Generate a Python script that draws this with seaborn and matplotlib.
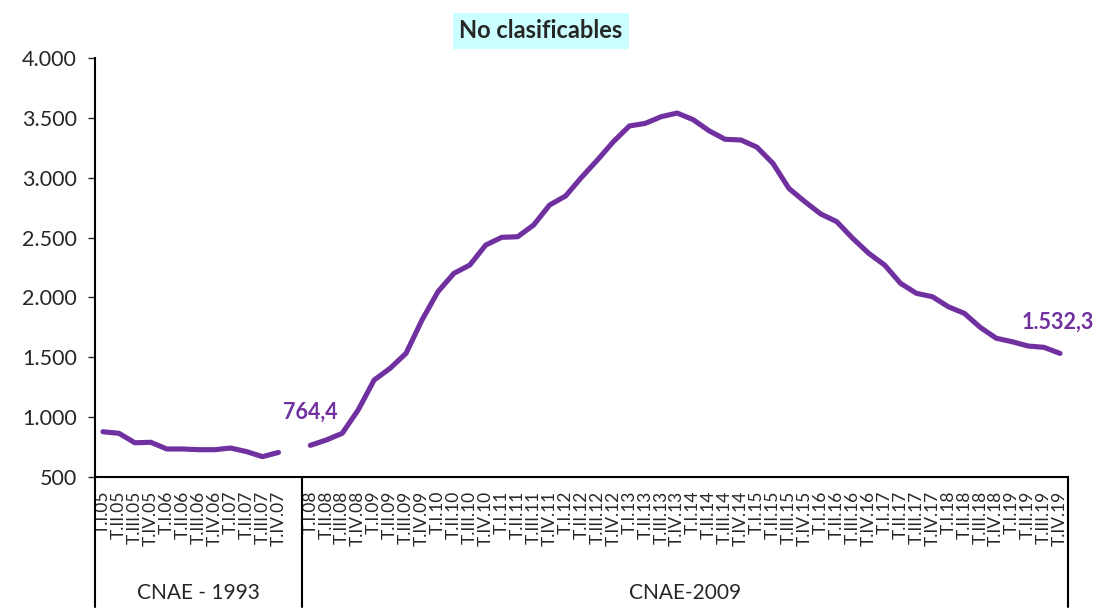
import numpy as np
import pandas as pd
import matplotlib
matplotlib.use("Agg")
import matplotlib.pyplot as plt
import matplotlib.transforms as mtransforms
import seaborn as sns

# ---- data ----
quarters_1993 = ["T.I.05", "T.II.05", "T.III.05", "T.IV.05",
                 "T.I.06", "T.II.06", "T.III.06", "T.IV.06",
                 "T.I.07", "T.II.07", "T.III.07", "T.IV.07"]
values_1993 = [878, 865, 786, 790, 734, 734, 728, 728, 742, 712, 670, 705]

years_2009 = [f"{y:02d}" for y in range(8, 20)]
roman = ["I", "II", "III", "IV"]
quarters_2009 = [f"T.{r}.{y}" for y in years_2009 for r in roman]
values_2009 = [764.4, 809, 865, 1060, 1310, 1408, 1533, 1811, 2048, 2201,
               2271, 2438, 2502, 2507, 2605, 2772, 2847, 3003, 3148, 3301,
               3432, 3454, 3510, 3540, 3485, 3392, 3321, 3315, 3255, 3120,
               2911, 2800, 2697, 2633, 2494, 2369, 2271, 2118, 2034, 2006,
               1922, 1867, 1750, 1659, 1630, 1594, 1583, 1532.3]
group_names = ["CNAE - 1993", "CNAE-2009"]
title = "No clasificables"

# ---- style ----
sns.set_style("white")
plt.rcParams["font.family"] = ["Lato", "DejaVu Sans"]
purple = "#7030A0"

tick_labels = quarters_1993 + [""] + quarters_2009
n1 = len(quarters_1993)
x1 = np.arange(n1)
x2 = np.arange(len(quarters_2009)) + n1 + 1
df1 = pd.DataFrame({"x": x1, "v": values_1993})
df2 = pd.DataFrame({"x": x2, "v": values_2009})

fig = plt.figure(figsize=(10.97, 6.09), dpi=100)
ax = fig.add_axes([95/1097, 1-477/609, (1068-95)/1097, (477-58)/609])

sns.lineplot(data=df1, x="x", y="v", ax=ax, color=purple, lw=3.7)
sns.lineplot(data=df2, x="x", y="v", ax=ax, color=purple, lw=3.7)

ax.set_xlim(-0.5, len(tick_labels) - 0.5)
ax.set_ylim(500, 4000)
ax.set_yticks(np.arange(500, 4001, 500))
ax.set_yticklabels([f"{int(v):,}".replace(",", ".") for v in np.arange(500, 4001, 500)],
                   fontsize=15.5)
ax.set_xticks(np.arange(len(tick_labels)))
ax.set_xticklabels(tick_labels, rotation=90, fontsize=12.5)
ax.tick_params(axis="x", length=0, pad=10)
ax.tick_params(axis="y", length=5, width=1, direction="out", left=True, pad=8)
ax.set_xlabel("")
ax.set_ylabel("")
for s in ["top", "right"]:
    ax.spines[s].set_visible(False)
for s in ["left", "bottom"]:
    ax.spines[s].set_color("black")
    ax.spines[s].set_linewidth(1.5)

# group separators and labels
trans = mtransforms.blended_transform_factory(ax.transData, ax.transAxes)
depth = -(607 - 477) / (477 - 58)
for xb in [-0.5, n1 + 0.5, len(tick_labels) - 0.5]:
    ax.plot([xb, xb], [0, depth], transform=trans, color="black", lw=1.5, clip_on=False)
label_y = -(593 - 477) / (477 - 58)
ax.text((-0.5 + n1 + 0.5) / 2, label_y, group_names[0], transform=trans,
        ha="center", va="center", fontsize=15)
ax.text((n1 + 0.5 + len(tick_labels) - 0.5) / 2, label_y, group_names[1], transform=trans,
        ha="center", va="center", fontsize=15)

# data labels
ax.annotate(f"{values_2009[0]:.1f}".replace(".", ","), (x2[0], values_2009[0]),
            xytext=(0, 33), textcoords="offset pixels", ha="center", va="center",
            color=purple, fontsize=15.5, fontweight="bold")
last = f"{values_2009[-1]:,.1f}".replace(",", "X").replace(".", ",").replace("X", ".")
ax.annotate(last, (x2[-1], values_2009[-1]),
            xytext=(-2, 31), textcoords="offset pixels", ha="center", va="center",
            color=purple, fontsize=15.5, fontweight="bold", annotation_clip=False)

fig.text(541/1097, 1-31/609, title, ha="center", va="center", fontsize=17,
         fontweight="bold", bbox=dict(facecolor="#CCFFFF", edgecolor="none", pad=5))

fig.savefig("out.png", dpi=100)
